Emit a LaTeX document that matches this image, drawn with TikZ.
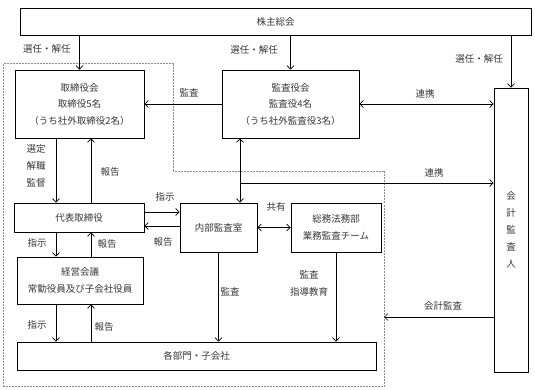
\documentclass[tikz,border=0pt]{standalone}
\usepackage{fontspec}
\setmainfont{Noto Sans CJK JP}
\usetikzlibrary{arrows.meta,calc,positioning}
\definecolor{FrameGray}{RGB}{140,140,140}
\definecolor{TextGray}{RGB}{55,55,55}

\begin{document}
\begin{tikzpicture}[x=1pt,y=-1pt,>={Straight Barb[length=3.5pt,width=7pt]},
  box/.style={draw,line width=0.9pt,align=center,inner sep=0pt,text=TextGray,
    font=\fontsize{9.5pt}{16.5pt}\selectfont},
  link/.style={line width=0.7pt},
  lbl/.style={inner sep=0pt,text=TextGray,align=center,
    font=\fontsize{9.5pt}{17pt}\selectfont}]
      \useasboundingbox (0,0) rectangle (535,390);
      % dashed area
      \draw[FrameGray,dashed,dash pattern=on 2pt off 1pt,line width=0.7pt]
        (3.5,63) -- (173,63) -- (173,171) -- (384,171) -- (384,386) -- (3.5,386) -- cycle;
      % boxes
      \node[box,minimum width=511,minimum height=27] (soukai) at (275.5,21.5) {株主総会};
      \node[box,minimum width=129,minimum height=68] (torikai) at (79.5,104)
      {取締役会\\取締役5名\\（うち社外取締役2名）};
      \node[box,minimum width=137,minimum height=68] (kansakai) at (290.5,104)
      {監査役会\\監査役4名\\（うち社外監査役3名）};
      \node[box,minimum width=34,minimum height=284] (kaikei) at (511,230) {};
      \node[lbl] (kaikeitxt) at (511,230) {会\\計\\監\\査\\人};
      \node[box,minimum width=130,minimum height=29] (daihyo) at (79,217.5) {代表取締役};
      \node[box,minimum width=77,minimum height=49] (naibu) at (218.5,227.5) {内部監査室};
      \node[box,minimum width=90,minimum height=49] (soumu) at (336,227.5)
      {総務法務部\\業務監査チーム};
      \node[box,minimum width=126,minimum height=47] (keiei) at (80,280.5)
      {経営会議\\常勤役員及び子会社役員};
      \node[box,minimum width=359,minimum height=28] (kakubu) at (196.5,356) {各部門・子会社};
      % helper coordinates
      \coordinate (colA) at (56,0);
      \coordinate (colB) at (91,0);
      \coordinate (rowA) at (0,212);
      \coordinate (rowB) at (0,226);
      \coordinate (renkei) at (240,183);
      \coordinate (gaibu) at (384,317);
      % connectors
      \draw[->,link] (torikai.north |- soukai.south) -- (torikai.north);
      \draw[->,link] (kansakai.north |- soukai.south) -- (kansakai.north);
      \draw[->,link] (kaikei.north |- soukai.south) -- (kaikei.north);
      \draw[->,link] (kansakai.west) -- (torikai.east);
      \draw[<->,link] (kansakai.east) -- (kaikei.west |- kansakai.east);
      \draw[<->,link] (kansakai.south -| renkei) -- (naibu.north -| renkei);
      \draw[->,link] (renkei) -- (kaikei.west |- renkei);
      \draw[->,link] (torikai.south -| colA) -- (daihyo.north -| colA);
      \draw[->,link] (daihyo.north -| colB) -- (torikai.south -| colB);
      \draw[->,link] (daihyo.south -| colA) -- (keiei.north -| colA);
      \draw[->,link] (keiei.north -| colB) -- (daihyo.south -| colB);
      \draw[->,link] (keiei.south -| colA) -- (kakubu.north -| colA);
      \draw[->,link] (kakubu.north -| colB) -- (keiei.south -| colB);
      \draw[->,link] (daihyo.east |- rowA) -- (naibu.west |- rowA);
      \draw[->,link] (naibu.west |- rowB) -- (daihyo.east |- rowB);
      \draw[<->,link] (naibu.east) -- (soumu.west);
      \draw[->,link] (naibu.south) -- (kakubu.north -| naibu.south);
      \draw[->,link] (soumu.south) -- (kakubu.north -| soumu.south);
      \draw[->,link] (kaikei.west |- gaibu) -- (gaibu);
      % labels
      \node[lbl] (sennin1) at (47,49) {選任・解任};
      \node[lbl] (sennin2) at (254,50) {選任・解任};
      \node[lbl] (sennin3) at (479,59) {選任・解任};
      \node[lbl] (kansa1) at (189,93) {監査};
      \node[lbl] (renkei1) at (425,94) {連携};
      \node[lbl] (renkei2) at (434,173) {連携};
      \node[lbl] (sentei) at (36,166) {選定\\解職\\監督};
      \node[lbl] (houkoku1) at (110,172) {報告};
      \node[lbl] (shiji1) at (165,197) {指示};
      \node[lbl] (houkoku2) at (163,242) {報告};
      \node[lbl] (kyouyu) at (276,207) {共有};
      \node[lbl] (shiji2) at (37,243) {指示};
      \node[lbl] (houkoku3) at (107,244) {報告};
      \node[lbl] (shiji3) at (37,325) {指示};
      \node[lbl] (houkoku4) at (104,327) {報告};
      \node[lbl] (kansa2) at (230,292) {監査};
      \node[lbl] (kansa3) at (309,283) {監査\\指導教育};
      \node[lbl] (kaikeikansa) at (443,306) {会計監査};
    \end{tikzpicture}
\end{document}
